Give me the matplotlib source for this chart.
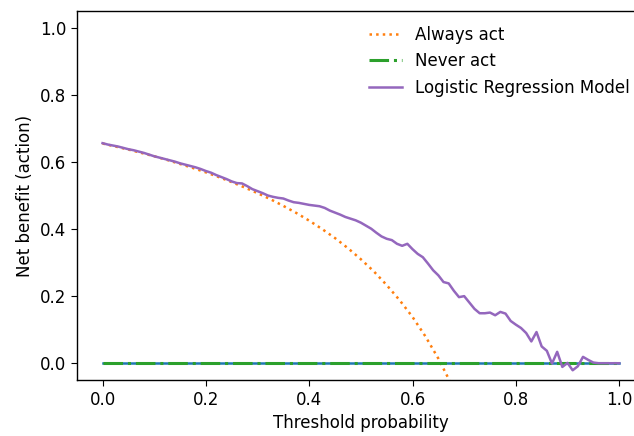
import matplotlib
matplotlib.use("Agg")
import matplotlib.pyplot as plt
import numpy as np

# threshold grid for the "always act" curve
always_t = [0.0, 0.025, 0.05, 0.075, 0.1, 0.125, 0.15, 0.175, 0.2, 0.225,
            0.25, 0.275, 0.3, 0.325, 0.35, 0.375, 0.4, 0.425, 0.45, 0.475,
            0.5, 0.525, 0.55, 0.575, 0.6, 0.625, 0.65, 0.675]
always_nb = [0.655, 0.646, 0.637, 0.627, 0.617, 0.606, 0.594, 0.582, 0.569, 0.555,
             0.540, 0.524, 0.507, 0.489, 0.469, 0.448, 0.425, 0.400, 0.373, 0.343,
             0.310, 0.274, 0.233, 0.188, 0.138, 0.080, 0.014, -0.062]

# model curve, thresholds 0.00 .. 1.00 step 0.01
model_t = [i / 100 for i in range(101)]
model_nb = [0.656, 0.652, 0.649, 0.646, 0.642, 0.638, 0.635, 0.631, 0.627, 0.622,
            0.617, 0.613, 0.609, 0.605, 0.601, 0.596, 0.592, 0.588, 0.584, 0.579,
            0.573, 0.568, 0.561, 0.555, 0.549, 0.542, 0.537, 0.536, 0.528, 0.519,
            0.513, 0.507, 0.500, 0.496, 0.493, 0.491, 0.485, 0.480, 0.478, 0.475,
            0.472, 0.470, 0.468, 0.463, 0.455, 0.449, 0.443, 0.436, 0.431, 0.426,
            0.419, 0.410, 0.401, 0.389, 0.378, 0.371, 0.367, 0.356, 0.350, 0.356,
            0.340, 0.326, 0.316, 0.297, 0.277, 0.262, 0.242, 0.238, 0.216, 0.197,
            0.200, 0.181, 0.162, 0.149, 0.149, 0.151, 0.143, 0.153, 0.148, 0.126,
            0.115, 0.105, 0.090, 0.065, 0.093, 0.050, 0.037, -0.001, 0.034, -0.011,
            0.001, -0.021, -0.009, 0.019, 0.010, 0.002, 0.0, 0.0, 0.0, 0.0,
            0.0]

never_t = [0.0, 1.0]
never_nb = [0.0, 0.0]

plt.rcParams['font.size'] = 12
plt.rcParams['xtick.major.size'] = 4.2
plt.rcParams['ytick.major.size'] = 4.2
plt.rcParams['axes.linewidth'] = 1.0

fig = plt.figure(figsize=(6.34, 4.36), dpi=100)
ax = fig.add_axes([76.7 / 634, 1 - 380 / 436, (645 - 76.7) / 634, (380 - 11) / 436])

ax.plot(never_t, never_nb, color="C0", lw=1.8)
ax.plot(always_t, always_nb, color="C1", ls=":", lw=1.8, label="Always act")
ax.plot(never_t, never_nb, color="C2", ls="-.", lw=2.2, label="Never act")
ax.plot(model_t, model_nb, color="C4", lw=1.8, label="Logistic Regression Model")

ax.set_xlim(-0.05, 1.05)
ax.set_ylim(-0.05, 1.05)
ax.set_xticks([0.0, 0.2, 0.4, 0.6, 0.8, 1.0])
ax.set_yticks([0.0, 0.2, 0.4, 0.6, 0.8, 1.0])
ax.set_xlabel("Threshold probability")
ax.set_ylabel("Net benefit (action)")
ax.legend(loc="upper right", frameon=False)

fig.savefig("out.png", dpi=100)
